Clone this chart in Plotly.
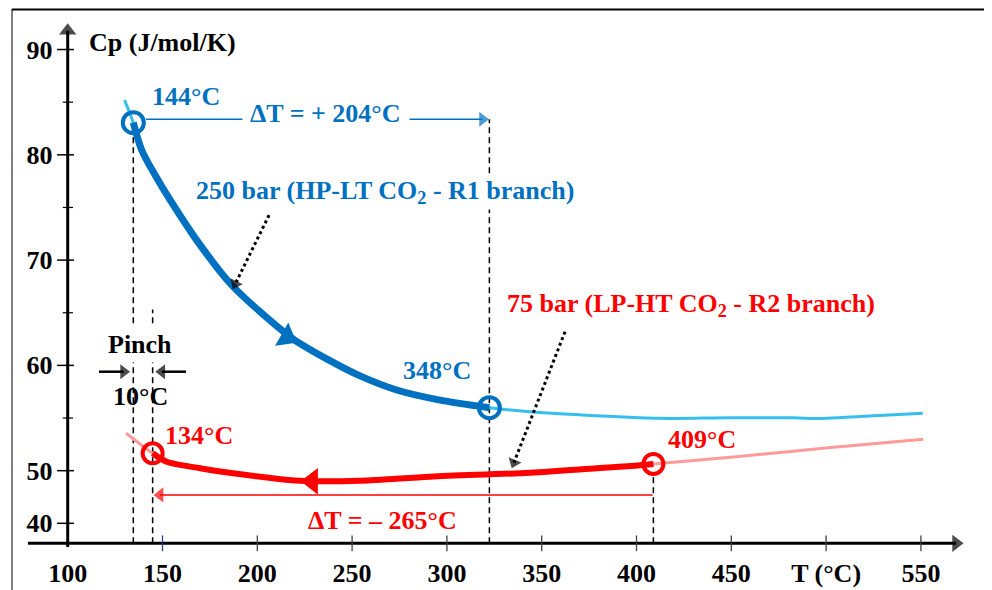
import math
import plotly.graph_objects as go

# ---------------- data ----------------
# 250 bar (HP-LT CO2 - R1 branch): thick part between the two circles
blue_T = [134.6, 139.0, 146.0, 154.0, 168.0, 185.6, 201.4, 219.0, 238.3, 254.2, 273.5, 295.0, 322.4]
blue_Cp = [83.05, 80.46, 78.1, 75.71, 71.9, 67.8, 65.1, 62.5, 60.45, 59.0, 57.66, 56.75, 55.98]
# thin (light) continuation of the 250 bar curve
blue_pre_T = [130.0]
blue_pre_Cp = [85.2]
blue_post_T = [343.8, 370.0, 412.4, 449.7, 482.5, 498.3, 517.8, 551.0]
blue_post_Cp = [55.6, 55.3, 54.97, 55.03, 55.02, 54.95, 55.15, 55.46]

# 75 bar (LP-HT CO2 - R2 branch): thick part between the two circles
red_T = [144.8, 152.2, 169.9, 187.3, 205.0, 222.5, 254.2, 291.1, 343.8, 379.0, 395.0, 408.9]
red_Cp = [51.65, 50.85, 50.23, 49.75, 49.35, 49.05, 49.05, 49.43, 49.81, 50.23, 50.42, 50.64]
red_pre_T = [130.8]
red_pre_Cp = [53.55]
red_post_T = [449.7, 498.3, 551.3]
red_post_Cp = [51.27, 52.13, 52.98]

# direction arrowheads on the curves (previous point, arrowhead centre)
blue_arrow_T = [201.7, 215.5]
blue_arrow_Cp = [64.12, 62.7]
red_arrow_T = [260.0, 228.9]
red_arrow_Cp = [49.0, 49.0]

# dotted label pointers (tail, tip)
blue_ptr_T = [206.2, 187.0]
blue_ptr_Cp = [74.27, 67.23]
red_ptr_T = [362.3, 334.2]
red_ptr_Cp = [63.2, 50.23]

# delta-T and pinch arrows (tail, tip)
dT_blue_T = [141.3, 322.2]
dT_blue_Cp = [83.38, 83.38]
dT_red_T = [408.5, 145.3]
dT_red_Cp = [47.7, 47.7]
pinch_left_T = [116.5, 132.9]
pinch_right_T = [162.4, 146.2]
pinch_Cp = [59.4, 59.4]

# axes ticks
x_ticks = [100, 150, 200, 250, 300, 350, 400, 450, 500, 550]
x_ticktext = ["100", "150", "200", "250", "300", "350", "400", "450", "T (°C)", "550"]
y_ticks = [45, 50, 60, 70, 80, 90]
y_ticktext = ["40", "50", "60", "70", "80", "90"]
y_minor = [55, 65, 75, 85]
X_AXIS_Y = 43.1     # where the T axis crosses
Y_AXIS_X = 100      # where the Cp axis crosses
X_AXIS_T = [79.0, 572.5]
Y_AXIS_CP = [42.75, 92.5]
X_RANGE = [74.84, 578.53]
Y_RANGE = [41.04, 93.28]

# ---------------- style / page geometry ----------------
OFF = 8                      # default body margin of the html page
W, H = 992 - OFF, 590 - OFF  # figure size so that it fits the window
ML, MT = 20 - OFF, 15 - OFF
MR = W - (975 - OFF)
MB = H - (565 - OFF)
BLUE = "#0070C0"
LBLUE = "#35BEEE"
RED = "#FF0000"
PINK = "#FF9A9A"
FONT = "Liberation Serif"
FS = 26

X0, X1 = X_RANGE
Y0, Y1 = Y_RANGE
pw, ph = W - ML - MR, H - MT - MB
SX = pw / (X1 - X0)   # px per degree
SY = ph / (Y1 - Y0)   # px per J/mol/K

fig = go.Figure()

def add_line(xs, ys, color, width, dash="solid", smooth=True):
    fig.add_trace(go.Scatter(x=xs, y=ys, mode="lines",
                             line=dict(color=color, width=width, dash=dash,
                                       shape="spline" if smooth else "linear", smoothing=0.9),
                             hoverinfo="skip", showlegend=False))

def add_arrow(xs, ys, color, width, head, dash="solid"):
    """line from (xs[0],ys[0]) to the tip (xs[1],ys[1]) with a triangular head ending at the tip"""
    dxp = (xs[1] - xs[0]) * SX
    dyp = (ys[1] - ys[0]) * SY
    L = math.hypot(dxp, dyp)
    r = head / 2.0
    cx = xs[1] - r * dxp / L / SX
    cy = ys[1] - r * dyp / L / SY
    fig.add_trace(go.Scatter(x=[xs[0], cx], y=[ys[0], cy], mode="lines",
                             line=dict(color=color, width=width, dash=dash),
                             hoverinfo="skip", showlegend=False))
    fig.add_trace(go.Scatter(x=[xs[0], cx], y=[ys[0], cy], mode="markers",
                             marker=dict(symbol="triangle-up", size=[0, head], color=color,
                                         angleref="previous", line=dict(width=0)),
                             hoverinfo="skip", showlegend=False))

# light continuation curves (below)
add_line(blue_pre_T + blue_T + blue_post_T, blue_pre_Cp + blue_Cp + blue_post_Cp, LBLUE, 3)
add_line(red_pre_T + red_T + red_post_T, red_pre_Cp + red_Cp + red_post_Cp, PINK, 3)
# thick branches
add_line(blue_T, blue_Cp, BLUE, 7)
add_line(red_T, red_Cp, RED, 6)
# direction arrowheads
for ax_, ay_, c in [(blue_arrow_T, blue_arrow_Cp, BLUE), (red_arrow_T, red_arrow_Cp, RED)]:
    fig.add_trace(go.Scatter(x=ax_, y=ay_, mode="markers",
                             marker=dict(symbol="triangle-up", size=[0, 23], color=c, angleref="previous",
                                         line=dict(width=0), opacity=1),
                             showlegend=False, hoverinfo="skip"))
# circles at the end points
fig.add_trace(go.Scatter(x=[blue_T[0], blue_T[-1]], y=[blue_Cp[0], blue_Cp[-1]], mode="markers",
                         marker=dict(symbol="circle-open", size=21, color=BLUE, line=dict(width=4)),
                         showlegend=False))
fig.add_trace(go.Scatter(x=[red_T[0], red_T[-1]], y=[red_Cp[0], red_Cp[-1]], mode="markers",
                         marker=dict(symbol="circle-open", size=20, color=RED, line=dict(width=4)),
                         showlegend=False))
# dotted pointers
add_arrow(blue_ptr_T, blue_ptr_Cp, "black", 3, 12, dash="dot")
add_arrow(red_ptr_T, red_ptr_Cp, "black", 3, 12, dash="dot")
# delta-T arrows and pinch arrows
add_arrow(dT_blue_T, dT_blue_Cp, BLUE, 1.5, 13)
add_arrow(dT_red_T, dT_red_Cp, RED, 1.5, 13)
add_arrow(pinch_left_T, pinch_Cp, "black", 2.5, 13)
add_arrow(pinch_right_T, pinch_Cp, "black", 2.5, 13)
# axes with arrow heads
add_arrow(X_AXIS_T, [X_AXIS_Y, X_AXIS_Y], "black", 3, 15)
add_arrow([Y_AXIS_X, Y_AXIS_X], Y_AXIS_CP, "black", 3, 15)

shapes = []
# vertical dashed guides
dash = "6px,4px"
for xv, ytop in [(blue_T[0], 82.0), (red_T[0], 65.3), (blue_T[-1], 83.38), (red_T[-1], 49.6)]:
    shapes.append(dict(type="line", xref="x", yref="y", x0=xv, x1=xv, y0=X_AXIS_Y, y1=ytop,
                       layer="below", line=dict(color="black", width=1.5, dash=dash)))
# axis ticks (crossing)
for v in y_ticks:
    shapes.append(dict(type="line", xref="x", yref="y", x0=94.4, x1=103.3, y0=v, y1=v,
                       line=dict(color="black", width=1.5)))
for v in y_minor:
    shapes.append(dict(type="line", xref="x", yref="y", x0=97.4, x1=102.8, y0=v, y1=v,
                       line=dict(color="black", width=1.2)))
for v in x_ticks[1:]:
    col = "#2b3f8f" if v == 150 else "#444444"
    shapes.append(dict(type="line", xref="x", yref="y", x0=v, x1=v, y0=X_AXIS_Y - 0.75, y1=X_AXIS_Y + 0.75,
                       line=dict(color=col, width=1.3)))
# figure frame (left and top), given in window pixels
def px2paper_x(p):
    return (p - OFF - ML) / pw
def px2paper_y(p):
    return (H - MB - (p - OFF)) / ph
shapes.append(dict(type="line", xref="paper", yref="paper", x0=px2paper_x(12), x1=px2paper_x(12),
                   y0=px2paper_y(9), y1=px2paper_y(600), line=dict(color="black", width=1)))
shapes.append(dict(type="line", xref="paper", yref="paper", x0=px2paper_x(12), x1=px2paper_x(1000),
                   y0=px2paper_y(9.5), y1=px2paper_y(9.5), line=dict(color="black", width=2)))

ann = []
def txt(x, y, s, color, xanchor="center", bg=None, pad=1):
    d = dict(x=x, y=y, xref="x", yref="y", text=s, showarrow=False, xanchor=xanchor, yanchor="middle",
             font=dict(family=FONT, size=FS, color=color, weight="bold"), borderpad=pad)
    if bg:
        d["bgcolor"] = bg
    ann.append(d)

txt(110.2, 90.71, "Cp (J/mol/K)", "black", xanchor="left")
txt(143.4, 85.58, "144°C", BLUE, xanchor="left")
txt(236.3, 83.96, " ΔT = + 204°C ", BLUE, bg="white", pad=2)
txt(267.1, 76.45, "250 bar (HP-LT CO<sub>2</sub> - R1 branch)", BLUE, bg="white")
txt(295.0, 59.47, "348°C", BLUE)
txt(428.5, 65.74, "75 bar (LP-HT CO<sub>2</sub> - R2 branch)", RED)
txt(169.5, 53.3, "134°C", RED)
txt(434.3, 53.0, "409°C", RED)
txt(265.9, 45.3, "ΔT = – 265°C", RED)
txt(138.2, 61.94, "Pinch", "black", bg="white", pad=3)
txt(138.2, 57.0, "10°C", "black")

tickfont = dict(family=FONT, size=FS, color="black", weight="bold")
fig.update_layout(
    width=W, height=H,
    margin=dict(l=ML, r=MR, t=MT, b=MB),
    paper_bgcolor="white", plot_bgcolor="white",
    showlegend=False,
    shapes=shapes, annotations=ann,
    xaxis=dict(range=X_RANGE, showgrid=False, zeroline=False, showline=False, automargin=False,
               tickmode="array", tickvals=x_ticks, ticktext=x_ticktext, tickfont=tickfont,
               ticks="outside", ticklen=6, tickcolor="rgba(0,0,0,0)",
               anchor="free", position=(X_AXIS_Y - Y0) / (Y1 - Y0), fixedrange=True),
    yaxis=dict(range=Y_RANGE, showgrid=False, zeroline=False, showline=False, automargin=False,
               tickmode="array", tickvals=y_ticks, ticktext=y_ticktext, tickfont=tickfont,
               ticks="outside", ticklen=10, tickcolor="rgba(0,0,0,0)",
               anchor="free", position=(Y_AXIS_X - X0) / (X1 - X0), fixedrange=True),
)

fig.write_html("out.html")
